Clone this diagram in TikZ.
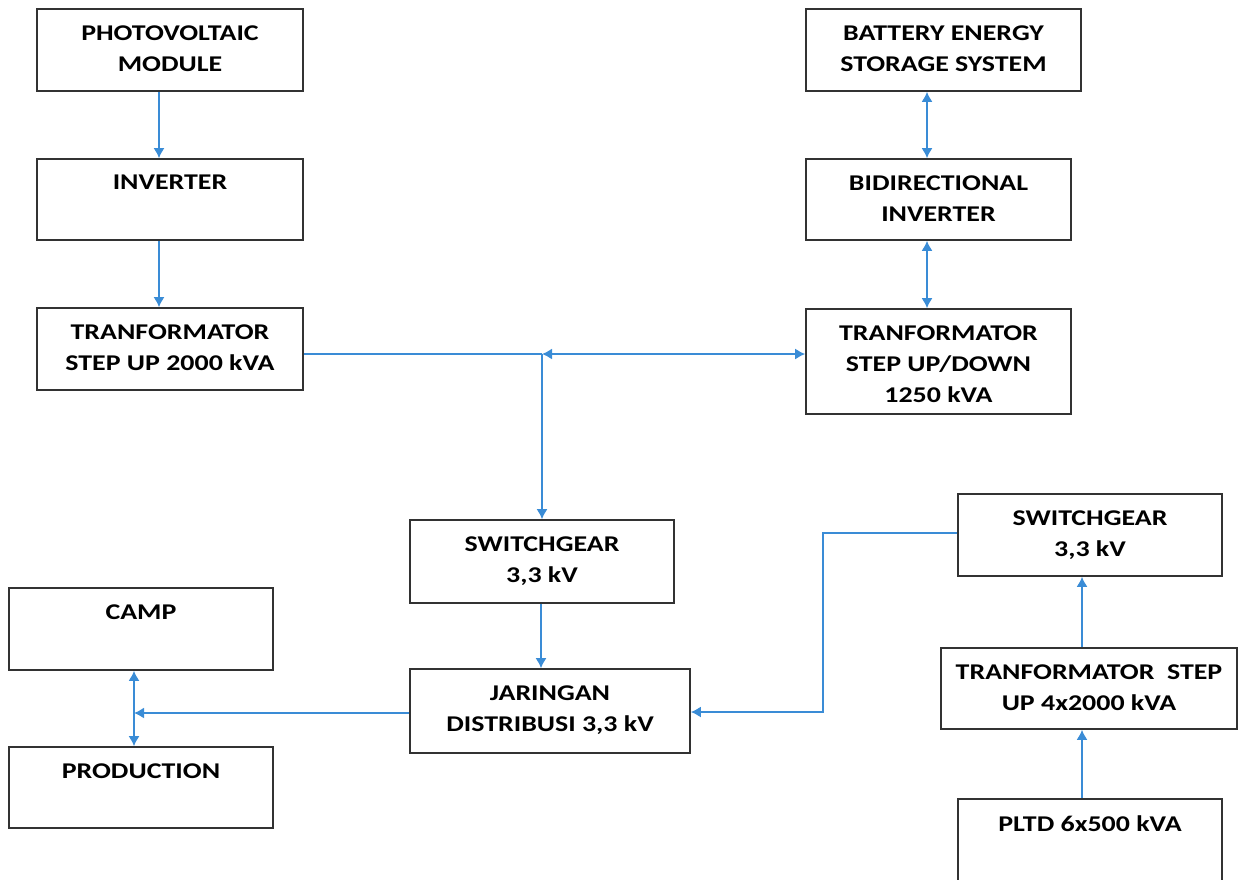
\documentclass[tikz,border=0pt]{standalone}
\usepackage{fontspec}
\setmainfont{Carlito}[FakeStretch=1.24]
\usetikzlibrary{arrows.meta}
\definecolor{lineblue}{RGB}{58,140,214}
\definecolor{boxgray}{RGB}{50,50,50}
\begin{document}
\begin{tikzpicture}[x=1pt,y=-1pt,
  box/.style={draw=boxgray,line width=1.6pt,rectangle,inner sep=0pt},
  txt/.style={anchor=north,align=center,inner sep=0pt,font=\fontsize{22.5}{31}\selectfont\bfseries},
  conn/.style={draw=lineblue,line width=1.6pt},
  arr/.style={conn,-{Latex[length=10pt,width=11pt]}},
  darr/.style={conn,{Latex[length=10pt,width=11pt]}-{Latex[length=10pt,width=11pt]}}
]
\useasboundingbox (0,0) rectangle (1238,879);
% boxes
\node[box,minimum width=266pt,minimum height=82pt] (pv) at (170,50) {};
\node[txt] at ([yshift=-17pt]pv.north) {PHOTOVOLTAIC\\MODULE};
\node[box,minimum width=266pt,minimum height=81pt] (inv) at (170,199.5) {};
\node[txt] at ([yshift=-17pt]inv.north) {INVERTER};
\node[box,minimum width=266pt,minimum height=82pt] (tsu) at (170,349) {};
\node[txt] at ([yshift=-17pt]tsu.north) {TRANFORMATOR\\STEP UP 2000 kVA};
\node[box,minimum width=275pt,minimum height=82pt] (bess) at (943.5,50) {};
\node[txt] at ([yshift=-17pt]bess.north) {BATTERY ENERGY\\STORAGE SYSTEM};
\node[box,minimum width=265pt,minimum height=81pt] (bid) at (938.5,199.5) {};
\node[txt] at ([yshift=-17pt]bid.north) {BIDIRECTIONAL\\INVERTER};
\node[box,minimum width=265pt,minimum height=105pt] (tsud) at (938.5,361.5) {};
\node[txt] at ([yshift=-17pt]tsud.north) {TRANFORMATOR\\STEP UP/DOWN\\1250 kVA};
\node[box,minimum width=264pt,minimum height=83pt] (sga) at (542,561.5) {};
\node[txt] at ([yshift=-17pt]sga.north) {SWITCHGEAR\\3,3 kV};
\node[box,minimum width=280pt,minimum height=84pt] (jar) at (550,711) {};
\node[txt] at ([yshift=-17pt]jar.north) {JARINGAN\\DISTRIBUSI 3,3 kV};
\node[box,minimum width=264pt,minimum height=82pt] (camp) at (141,629) {};
\node[txt] at ([yshift=-17pt]camp.north) {CAMP};
\node[box,minimum width=264pt,minimum height=81pt] (prod) at (141,787.5) {};
\node[txt] at ([yshift=-17pt]prod.north) {PRODUCTION};
\node[box,minimum width=264pt,minimum height=82pt] (sgb) at (1090,535) {};
\node[txt] at ([yshift=-17pt]sgb.north) {SWITCHGEAR\\3,3 kV};
\node[box,minimum width=296pt,minimum height=81pt] (tsf) at (1089,688.5) {};
\node[txt] at ([yshift=-17pt]tsf.north) {TRANFORMATOR\ \ STEP\\UP 4x2000 kVA};
\node[box,minimum width=264pt,minimum height=95pt] (pltd) at (1090,846.5) {};
\node[txt] at ([yshift=-17pt]pltd.north) {PLTD 6x500 kVA};
% helper coordinates
\coordinate (c1) at (159,0);
\coordinate (c2) at (927,0);
\coordinate (j) at (542,354);
\coordinate (c3) at (541,0);
\coordinate (k) at (134,713);
\coordinate (r1) at (823,533);
\coordinate (r2) at (823,712);
\coordinate (c4) at (1082,0);
% connectors
\draw[arr] (c1 |- pv.south) -- (c1 |- inv.north);
\draw[arr] (c1 |- inv.south) -- (c1 |- tsu.north);
\draw[darr] (c2 |- bess.south) -- (c2 |- bid.north);
\draw[darr] (c2 |- bid.south) -- (c2 |- tsud.north);
\draw[conn] (tsu.east |- j) -- (j);
\draw[darr] (j) -- (tsud.west |- j);
\draw[arr] (j) -- (sga.north);
\draw[arr] (c3 |- sga.south) -- (c3 |- jar.north);
\draw[arr] (jar.west |- k) -- (k);
\draw[darr] (camp.south -| k) -- (prod.north -| k);
\draw[arr] (sgb.west |- r1) -- (r1) -- (r2) -- (jar.east |- r2);
\draw[arr] (c4 |- tsf.north) -- (c4 |- sgb.south);
\draw[arr] (c4 |- pltd.north) -- (c4 |- tsf.south);
\end{tikzpicture}
\end{document}
